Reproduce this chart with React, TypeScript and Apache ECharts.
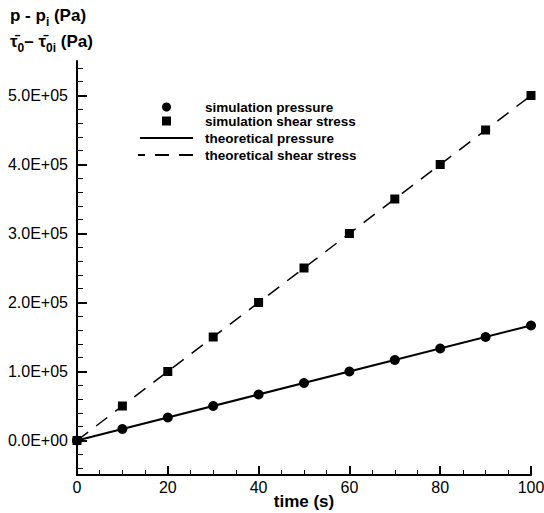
import React, { useEffect, useRef } from "react";
import * as echarts from "echarts";

const timeValues = [0, 10, 20, 30, 40, 50, 60, 70, 80, 90, 100];
const simPressure = [0, 16700, 33300, 50000, 66700, 83300, 100000, 116700, 133300, 150000, 166700];
const simShear = [0, 50000, 100000, 150000, 200000, 250000, 300000, 350000, 400000, 450000, 500000];
const theoryTime = [0, 100];
const theoryPressure = [0, 166700];
const theoryShear = [0, 500000];
const yMajorTicks = [0, 100000, 200000, 300000, 400000, 500000];
const yMinorTicks = [
  -40000, -20000, 20000, 40000, 60000, 80000, 120000, 140000, 160000, 180000,
  220000, 240000, 260000, 280000, 320000, 340000, 360000, 380000, 420000, 440000,
  460000, 480000, 520000, 540000,
];
const legendLabels = [
  "simulation pressure",
  "simulation shear stress",
  "theoretical pressure",
  "theoretical shear stress",
];

const FONT = "'Liberation Sans', Arial, Helvetica, sans-serif";

function fmtExp(v: number): string {
  if (v === 0) return "0.0E+00";
  const e = Math.floor(Math.log10(Math.abs(v)) + 1e-9);
  const m = v / Math.pow(10, e);
  return m.toFixed(1) + "E+" + String(e).padStart(2, "0");
}

export default function App() {
  const ref = useRef<HTMLDivElement>(null);
  useEffect(() => {
    if (!ref.current) return;
    const chart = echarts.init(ref.current, undefined, { renderer: "svg" });
    const pair = (xs: number[], ys: number[]) => xs.map((x, i) => [x, ys[i]]);
    const yBase = {
      type: "value" as const,
      min: -50000,
      max: 550000,
      interval: 10000,
      position: "left" as const,
      splitLine: { show: false },
    };
    const legendTextY = [107, 121, 138, 155];
    chart.setOption({
      animation: false,
      backgroundColor: "#ffffff",
      grid: { left: 77, right: 13, top: 61, bottom: 38, outerBoundsMode: "none", containLabel: false },
      xAxis: {
        type: "value",
        min: 0,
        max: 100,
        interval: 20,
        splitLine: { show: false },
        axisLine: { show: true, onZero: false, lineStyle: { color: "#000", width: 2 } },
        axisTick: { show: true, inside: true, length: 9, lineStyle: { color: "#000", width: 2 } },
        minorTick: { show: true, splitNumber: 4, length: 5, lineStyle: { color: "#000", width: 1 } },
        axisLabel: { color: "#000", fontSize: 16, fontFamily: FONT, margin: 4 },
        name: "time (s)",
        nameLocation: "middle",
        nameGap: 26,
        nameMoveOverlap: false,
        nameTextStyle: { color: "#000", fontSize: 17, fontWeight: "bold", fontFamily: FONT, verticalAlign: "middle" },
      },
      yAxis: [
        {
          ...yBase,
          axisLine: { show: true, onZero: false, lineStyle: { color: "#000", width: 2 } },
          axisTick: { show: true, inside: true, length: 10, customValues: yMajorTicks, lineStyle: { color: "#000", width: 2 } },
          axisLabel: {
            show: true,
            customValues: yMajorTicks,
            color: "#000",
            fontSize: 16,
            fontFamily: FONT,
            margin: 9,
            formatter: (v: number) => fmtExp(v),
          },
        },
        {
          ...yBase,
          axisLine: { show: false },
          axisTick: { show: true, inside: true, length: 6, customValues: yMinorTicks, lineStyle: { color: "#000", width: 1 } },
          axisLabel: { show: false },
        },
      ],
      graphic: [
        {
          type: "text",
          left: 10,
          top: 7,
          style: {
            text: "{b|p - p}{s|i}{b| (Pa)}",
            rich: {
              b: { fontSize: 17, fontWeight: "bold", fontFamily: FONT, fill: "#000", lineHeight: 24, verticalAlign: "middle" },
              s: { fontSize: 12, fontWeight: "bold", fontFamily: FONT, fill: "#000", lineHeight: 24, verticalAlign: "bottom" },
            },
          },
        },
        {
          type: "text",
          left: 10,
          top: 33,
          style: {
            text: "{b|\u03c4\u0304}{s|0}{b|\u2013 \u03c4\u0304}{s|0i}{b| (Pa)}",
            rich: {
              b: { fontSize: 17, fontWeight: "bold", fontFamily: FONT, fill: "#000", lineHeight: 24, verticalAlign: "middle" },
              s: { fontSize: 12, fontWeight: "bold", fontFamily: FONT, fill: "#000", lineHeight: 24, verticalAlign: "bottom" },
            },
          },
        },
        { type: "circle", shape: { cx: 166.5, cy: legendTextY[0], r: 4.5 }, style: { fill: "#000" }, z: 100 },
        { type: "rect", shape: { x: 162, y: legendTextY[1] - 4.5, width: 9, height: 9 }, style: { fill: "#000" }, z: 100 },
        { type: "line", shape: { x1: 140, y1: legendTextY[2], x2: 193, y2: legendTextY[2] }, style: { stroke: "#000", lineWidth: 2 }, z: 100 },
        { type: "line", shape: { x1: 193, y1: legendTextY[3], x2: 138, y2: legendTextY[3] }, style: { stroke: "#000", lineWidth: 2, lineDash: [14, 10] }, z: 100 },
        ...legendLabels.map((t, i) => ({
          type: "text",
          x: 205,
          y: legendTextY[i],
          z: 100,
          style: { text: t, fontSize: 13.5, fontWeight: "bold", fontFamily: FONT, fill: "#000", verticalAlign: "middle", align: "left" },
        })),
      ],
      series: [
        {
          name: legendLabels[2],
          type: "line",
          data: pair(theoryTime, theoryPressure),
          symbol: "none",
          lineStyle: { color: "#000", width: 2, type: "solid" },
        },
        {
          name: legendLabels[3],
          type: "line",
          data: pair(theoryTime, theoryShear),
          symbol: "none",
          lineStyle: { color: "#000", width: 1.5, type: [14, 10] },
        },
        {
          name: legendLabels[0],
          type: "scatter",
          data: pair(timeValues, simPressure),
          symbol: "circle",
          symbolSize: 10,
          itemStyle: { color: "#000", opacity: 1 },
          clip: false,
          z: 5,
        },
        {
          name: legendLabels[1],
          type: "scatter",
          data: pair(timeValues, simShear),
          symbol: "rect",
          symbolSize: 9,
          itemStyle: { color: "#000", opacity: 1 },
          clip: false,
          z: 5,
        },
      ],
    });
    return () => chart.dispose();
  }, []);
  return <div ref={ref} style={{ position: "absolute", left: 0, top: 0, width: 544, height: 513 }} />;
}
